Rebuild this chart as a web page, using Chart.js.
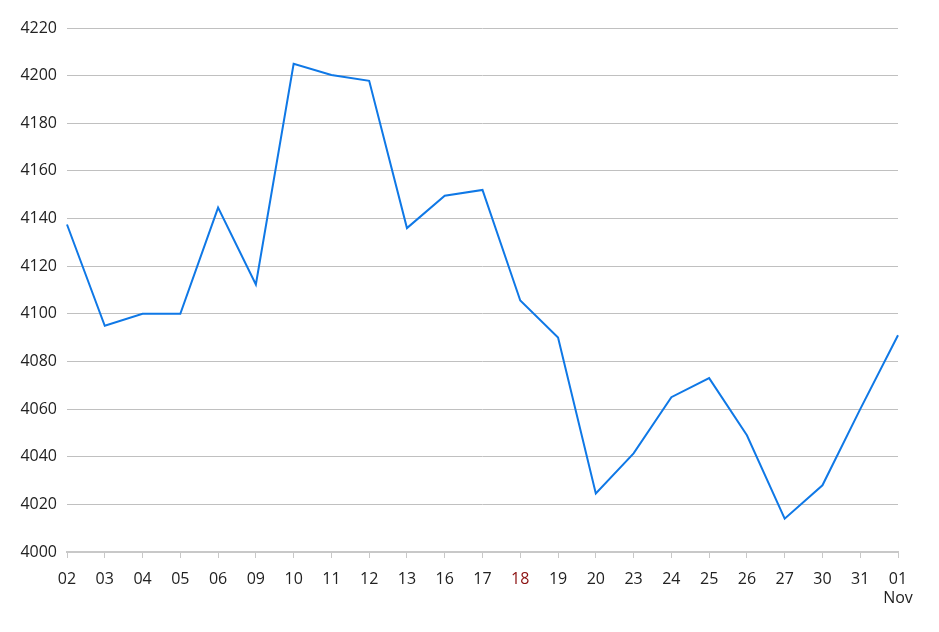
<!DOCTYPE html>
<html>
<head>
<meta charset="utf-8">
<script src="https://cdn.jsdelivr.net/npm/chart.js@4/dist/chart.umd.min.js"></script>
<style>
html,body{margin:0;padding:0;background:#fff;}
#wrap{width:939px;height:632px;position:relative;}
</style>
</head>
<body>
<div id="wrap"><canvas id="c" width="939" height="632"></canvas></div>
<script>
const categories = ['02','03','04','05','06','09','10','11','12','13','16','17','18','19','20','23','24','25','26','27','30','31',['01','Nov']];
const values = [4137.5,4095,4100,4100,4144.6,4112.3,4205,4200.3,4197.8,4136,4149.6,4152,4105.6,4090,4024.6,4041.4,4065,4073,4049,4014,4028,4060,4091];
const yMin = 4000, yMax = 4220, yStep = 20;
const highlightLabel = '18';

new Chart(document.getElementById('c'), {
  type: 'line',
  data: {
    labels: categories,
    datasets: [{
      data: values,
      borderColor: '#0f78e6',
      borderWidth: 2,
      pointRadius: 0,
      tension: 0,
      fill: false
    }]
  },
  options: {
    responsive: false,
    animation: false,
    layout: { padding: { top: 28, right: 41, left: 0, bottom: 0 } },
    plugins: { legend: { display: false }, tooltip: { enabled: false } },
    scales: {
      x: {
        offset: false,
        grid: { display: true, drawOnChartArea: false, drawTicks: true, tickLength: 6, color: '#c8c8c8', lineWidth: 1 },
        border: { display: true, color: '#c8c8c8', width: 2 },
        ticks: {
          autoSkip: false, maxRotation: 0, padding: 12,
          font: { family: 'Open Sans', size: 16 },
          color: (ctx) => (categories[ctx.index] === highlightLabel ? '#8b1010' : '#222'),
        },
        afterFit: (s) => { s.height = 80; }
      },
      y: {
        min: yMin, max: yMax,
        grid: { color: '#c0c0c0', lineWidth: 1, drawTicks: false },
        border: { display: false },
        ticks: { stepSize: yStep, padding: 10, font: { family: 'Open Sans', size: 16 }, color: '#222',
                 callback: (v) => String(v) },
        afterFit: (s) => { s.width = 67; }
      }
    }
  }
});
</script>
</body>
</html>
